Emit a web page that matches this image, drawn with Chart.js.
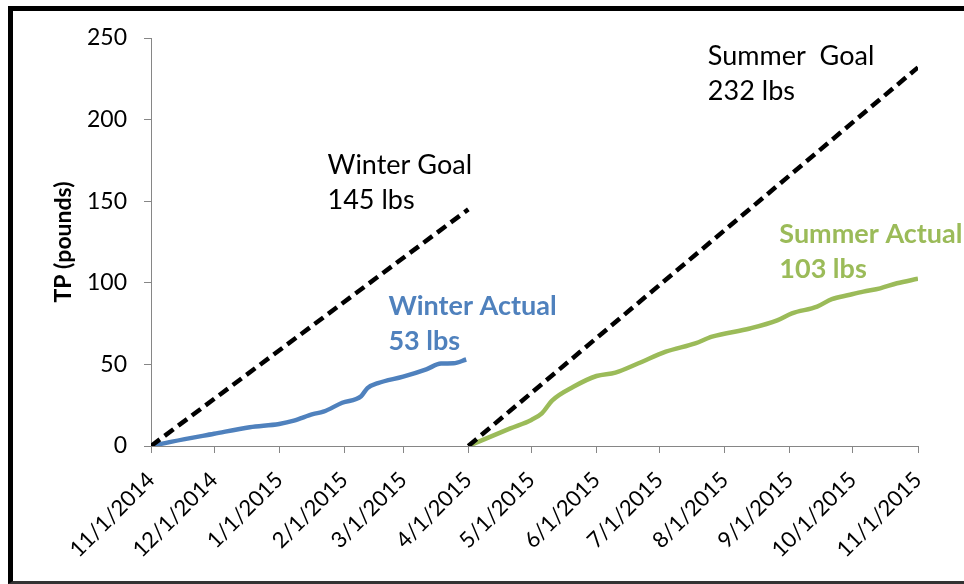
<!DOCTYPE html>
<html>
<head>
<meta charset="utf-8">
<script src="https://cdn.jsdelivr.net/npm/chart.js@4/dist/chart.umd.min.js"></script>
<style>
  html, body { margin: 0; padding: 0; background: #fff; }
  #wrap { position: relative; width: 964px; height: 584px; overflow: hidden; }
  #frame {
    position: absolute; left: 8px; top: 6px; width: 1000px; height: 578px;
    border-left: 5px solid #000; border-top: 5px solid #000; border-bottom: 3px solid #333;
    box-sizing: border-box; pointer-events: none;
  }
</style>
</head>
<body>
<div id="wrap">
  <canvas id="myChart" width="964" height="584"></canvas>
  <div id="frame"></div>
</div>
<script>
// month ticks on the date axis
var tickDates = ["11/1/2014", "12/1/2014", "1/1/2015", "2/1/2015", "3/1/2015", "4/1/2015",
    "5/1/2015", "6/1/2015", "7/1/2015", "8/1/2015", "9/1/2015", "10/1/2015", "11/1/2015"];

var winterGoalDates = ["11/1/2014", "4/1/2015"];
var winterGoalValues = [0, 145];
var summerGoalDates = ["4/1/2015", "11/1/2015"];
var summerGoalValues = [0, 232];

var winterActualDates = ["11/1/2014", "11/11/2014", "12/1/2014", "12/18/2014", "1/1/2015", "1/8/2015",
    "1/17/2015", "1/22/2015", "1/31/2015", "2/9/2015", "2/12/2015", "2/17/2015", "3/1/2015",
    "3/12/2015", "3/19/2015", "3/25/2015", "3/31/2015"];
var winterActualValues = [0, 2.7, 7.5, 11.5, 13.5, 15.5, 19.5, 21, 26.5, 30.5, 35.5, 38.5, 42.5,
    47, 50.5, 50.7, 53];

var summerActualDates = ["4/1/2015", "4/21/2015", "5/1/2015", "5/6/2015", "5/11/2015", "5/21/2015",
    "6/1/2015", "6/10/2015", "6/21/2015", "7/4/2015", "7/18/2015", "7/26/2015", "8/13/2015",
    "8/26/2015", "9/2/2015", "9/14/2015", "9/21/2015", "9/29/2015", "10/6/2015", "10/14/2015",
    "10/22/2015", "11/1/2015"];
var summerActualValues = [0, 10.8, 16, 20, 28, 36.3, 42.9, 45, 50.7, 57.8, 62.9, 67, 72,
    77, 81.3, 85.4, 90, 92.5, 94.6, 96.6, 99.7, 102.5];

// text labels in the plot, anchored to a date and value (first line baseline)
var noteLines = [["Winter Goal", "145 lbs"], ["Summer  Goal", "232 lbs"],
    ["Winter Actual", "53 lbs"], ["Summer Actual", "103 lbs"]];
var noteDates = ["1/24/2015", "7/24/2015", "2/22/2015", "8/27/2015"];
var noteValues = [166.5, 233.5, 80.5, 124.5];

var BLUE = "#4F81BD";
var GREEN = "#9BBB59";
var FONT = "Lato, 'Liberation Sans', sans-serif";

function dayOf(s) {
    var p = s.split("/").map(Number);
    return (Date.UTC(p[2], p[0] - 1, p[1]) - Date.UTC(2014, 10, 1)) / 86400000;
}

function points(dates, values) {
    return dates.map(function (d, i) {
        return { x: dayOf(d), y: values[i] };
    });
}

var tickDays = tickDates.map(dayOf);
var noteColors = ["#000", "#000", BLUE, GREEN];
var noteBold = [false, false, true, true];

var notesPlugin = {
    id: "notes",
    afterDatasetsDraw: function (chart) {
        var c = chart.ctx;
        var xs = chart.scales.x, ys = chart.scales.y;
        c.save();
        c.textAlign = "left";
        c.textBaseline = "alphabetic";
        noteLines.forEach(function (lines, i) {
            var px = xs.getPixelForValue(dayOf(noteDates[i]));
            var py = ys.getPixelForValue(noteValues[i]);
            c.fillStyle = noteColors[i];
            c.font = (noteBold[i] ? "bold " : "") + "27px " + FONT;
            lines.forEach(function (t, j) {
                c.fillText(t, px, py + j * 35);
            });
        });
        c.restore();
    }
};

var ctx = document.getElementById("myChart");
var data_arr = {
    datasets: [{
        label: "Winter Goal",
        data: points(winterGoalDates, winterGoalValues),
        borderColor: "#000",
        borderWidth: 4.5,
        borderDash: [11, 6]
    }, {
        label: "Summer Goal",
        data: points(summerGoalDates, summerGoalValues),
        borderColor: "#000",
        borderWidth: 4.5,
        borderDash: [11, 6]
    }, {
        label: "Winter Actual",
        data: points(winterActualDates, winterActualValues),
        borderColor: BLUE,
        borderWidth: 4.5,
        cubicInterpolationMode: "monotone"
    }, {
        label: "Summer Actual",
        data: points(summerActualDates, summerActualValues),
        borderColor: GREEN,
        borderWidth: 4.5,
        cubicInterpolationMode: "monotone"
    }]
};

var options = {
    responsive: false,
    animation: false,
    layout: { padding: { left: 14, right: 46, top: 38, bottom: 0 } },
    elements: { point: { radius: 0 }, line: { fill: false } },
    plugins: { legend: { display: false }, tooltip: { enabled: false } },
    scales: {
        x: {
            type: "linear",
            min: 0,
            max: 365,
            afterBuildTicks: function (scale) {
                scale.ticks = tickDays.map(function (v) { return { value: v }; });
            },
            afterFit: function (scale) { scale.height = 138; },
            grid: { drawOnChartArea: false, color: "#868686", tickLength: 7 },
            border: { color: "#868686", width: 1 },
            ticks: {
                autoSkip: false,
                minRotation: 45,
                maxRotation: 45,
                padding: 14,
                color: "#000",
                font: { family: FONT, size: 22 },
                callback: function (v) {
                    var i = tickDays.indexOf(v);
                    return i < 0 ? "" : tickDates[i];
                }
            }
        },
        y: {
            min: 0,
            max: 250,
            afterFit: function (scale) { scale.width = 137; },
            grid: { drawOnChartArea: false, color: "#868686", tickLength: 7 },
            border: { color: "#868686", width: 1 },
            ticks: {
                stepSize: 50,
                padding: 17,
                color: "#000",
                font: { family: FONT, size: 23 }
            },
            title: {
                display: true,
                text: "TP (pounds)",
                color: "#000",
                font: { family: FONT, size: 23, weight: "bold" },
                padding: { top: 36, bottom: 0 }
            }
        }
    }
};

var firstDiagram = new Chart(ctx, {
    type: "line",
    data: data_arr,
    options: options,
    plugins: [notesPlugin]
});
</script>
</body>
</html>
